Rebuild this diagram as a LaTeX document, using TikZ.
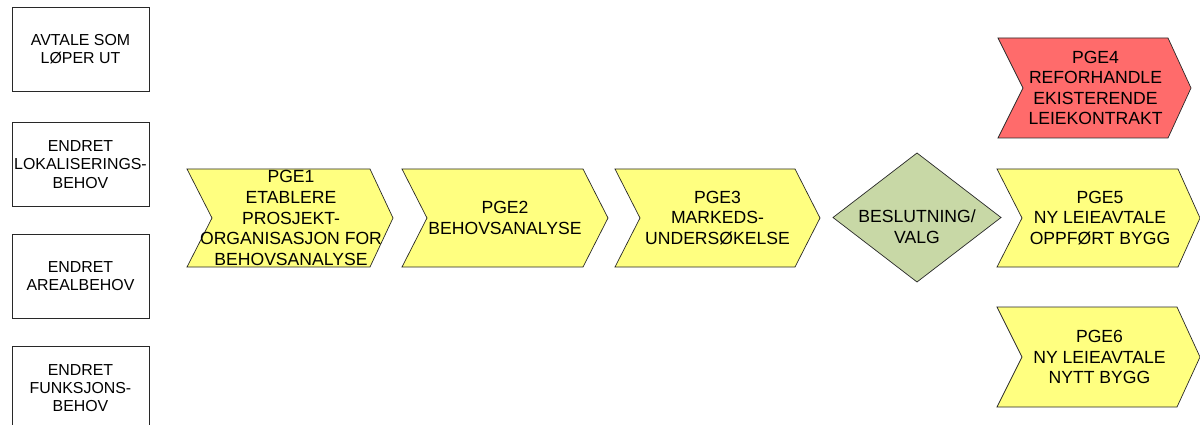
\documentclass[tikz,border=0pt]{standalone}
\usepackage{fontspec}
\setmainfont{Liberation Sans}
\definecolor{pgeyellow}{RGB}{255,255,128}
\definecolor{pgered}{RGB}{255,107,107}
\definecolor{pgegreen}{RGB}{200,216,166}
\definecolor{pgeline}{RGB}{40,40,40}
\newcommand{\pgechev}[9]{%
  % #1 name, #2 left, #3 notch, #4 right corner, #5 tip, #6 top, #7 bottom, #8 fill, #9 text
  \path[chevshape,fill=#8] (#2,#6) -- (#4,#6) -- (#5,{(#6+#7)/2}) -- (#4,#7) -- (#2,#7) -- (#3,{(#6+#7)/2}) -- cycle;
  \node[chevtext] (#1) at ({(#3+#4)/2},{(#6+#7)/2}) {#9};
}
\begin{document}
\begin{tikzpicture}[x=1pt,y=-1pt,
  chevshape/.style={draw=pgeline,line width=0.7pt,line join=miter},
  chevtext/.style={align=center,inner sep=0pt,font=\fontsize{17.6}{20.6}\selectfont},
  leftbox/.style={draw=pgeline,line width=0.7pt,fill=white,minimum width=137pt,minimum height=84pt,inner sep=0pt,align=center,font=\fontsize{15.9}{18.2}\selectfont},
  diamtext/.style={align=center,inner sep=0pt,font=\fontsize{17.6}{20.6}\selectfont}]
\useasboundingbox (0,0) rectangle (1200,425);
% left boxes
\node[leftbox] (b1) at (80.5,49.5) {AVTALE SOM\\LØPER UT};
\node[leftbox] (b2) at (80.5,164.5) {ENDRET\\LOKALISERINGS-\\BEHOV};
\node[leftbox] (b3) at (80.5,276) {ENDRET\\AREALBEHOV};
\node[leftbox] (b4) at (80.5,388) {ENDRET\\FUNKSJONS-\\BEHOV};
% chevrons
\pgechev{pge1}{187}{212}{370}{393}{169}{267}{pgeyellow}{PGE1\\ETABLERE\\PROSJEKT-\\ORGANISASJON FOR\\BEHOVSANALYSE}
\pgechev{pge2}{402}{427}{583}{608}{169}{267}{pgeyellow}{PGE2\\BEHOVSANALYSE}
\pgechev{pge3}{615}{640}{795}{820}{169}{267}{pgeyellow}{PGE3\\MARKEDS-\\UNDERSØKELSE}
\pgechev{pge4}{998}{1023}{1168}{1191}{38}{138}{pgered}{PGE4\\REFORHANDLE\\EKISTERENDE\\LEIEKONTRAKT}
\pgechev{pge5}{997}{1022}{1178}{1200}{169}{267}{pgeyellow}{PGE5\\NY LEIEAVTALE\\OPPFØRT BYGG}
\pgechev{pge6}{997}{1022}{1177}{1200}{307}{407}{pgeyellow}{PGE6\\NY LEIEAVTALE\\NYTT BYGG}
% decision diamond
\path[chevshape,fill=pgegreen] (833,217.5) -- (917,153) -- (1001,217.5) -- (917,282) -- cycle;
\node[diamtext] (valg) at (917,227) {BESLUTNING/\\VALG};
\end{tikzpicture}
\end{document}
